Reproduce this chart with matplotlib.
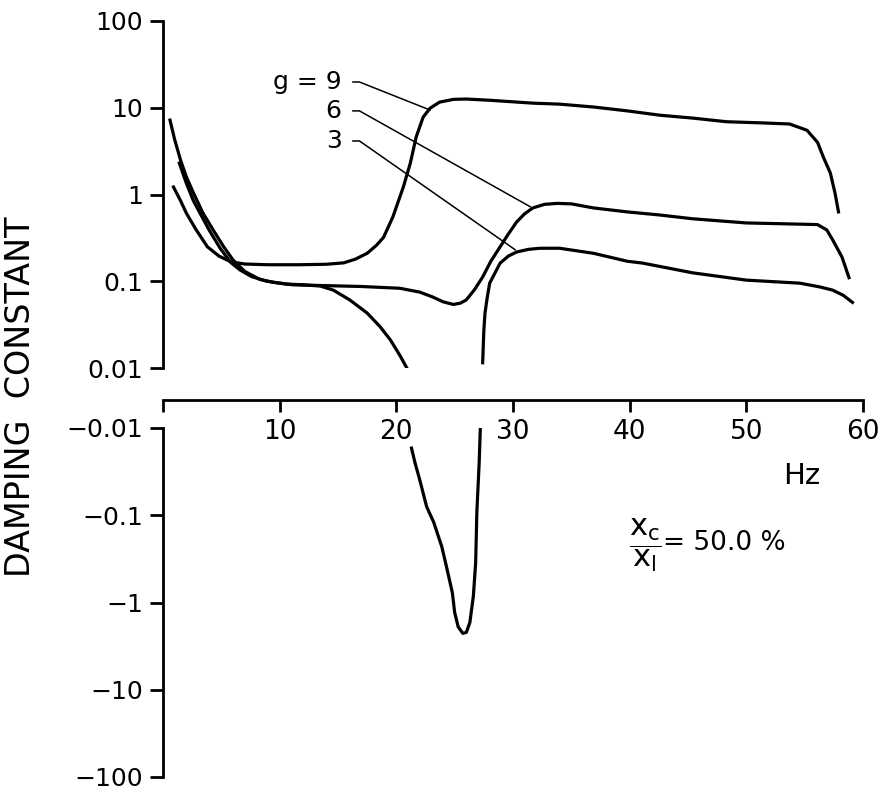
import numpy as np
import matplotlib
matplotlib.use('Agg')
import matplotlib.pyplot as plt
from matplotlib.ticker import NullLocator

plt.rcParams['font.family'] = 'DejaVu Sans'
plt.rcParams['mathtext.fontset'] = 'dejavusans'

# --- data (Hz, damping constant) ---
hz_g9 = [0.9, 1.5, 2.0, 2.8, 3.8, 4.8, 5.8, 7.0, 9.0, 11.7, 14.0, 15.5, 16.5, 17.5,
         18.3, 18.9, 19.7, 20.6, 21.2, 21.7, 22.3, 22.9, 23.7, 24.9, 26.0, 28.0,
         31.7, 34.0, 36.9, 39.8, 42.6, 45.4, 48.3, 51.2, 53.7, 55.2, 56.1, 56.6,
         57.2, 57.6, 57.9]
damp_g9 = [1.22, 0.85, 0.61, 0.40, 0.25, 0.195, 0.168, 0.158, 0.155, 0.155, 0.157,
           0.163, 0.18, 0.21, 0.26, 0.32, 0.55, 1.22, 2.3, 4.6, 7.8, 9.9, 11.6, 12.5,
           12.6, 12.2, 11.3, 11.0, 10.2, 9.2, 8.2, 7.6, 6.9, 6.7, 6.5, 5.5, 4.0, 2.7,
           1.77, 1.04, 0.63]

hz_g6 = [0.6, 1.0, 1.5, 2.0, 2.6, 3.4, 4.3, 5.2, 6.0, 7.0, 8.3, 9.5, 11.1, 14.0,
         17.0, 20.3, 22.0, 23.1, 24.0, 24.9, 25.5, 26.0, 26.7, 27.4, 28.1, 28.9,
         29.6, 30.3, 31.0, 31.7, 32.7, 33.8, 35.0, 36.9, 39.8, 42.6, 45.4, 50.0,
         54.0, 56.1, 56.9, 57.4, 58.2, 58.8]
damp_g6 = [7.2, 4.3, 2.5, 1.6, 1.05, 0.62, 0.39, 0.25, 0.176, 0.13, 0.105, 0.097,
           0.091, 0.089, 0.087, 0.083, 0.075, 0.066, 0.058, 0.054, 0.056, 0.061,
           0.08, 0.112, 0.17, 0.25, 0.35, 0.48, 0.6, 0.70, 0.77, 0.79, 0.78, 0.70,
           0.63, 0.58, 0.525, 0.47, 0.457, 0.45, 0.39, 0.30, 0.19, 0.11]

# g = 3 crosses zero twice: positive, negative, positive again
hz_g3_a = [1.4, 2.0, 2.6, 3.2, 4.0, 4.9, 5.8, 6.6, 7.6, 8.9, 10.5, 12.0, 13.5,
           14.6, 16.0, 17.5, 18.6, 19.5, 20.3, 20.9]
damp_g3_a = [2.3, 1.35, 0.85, 0.6, 0.38, 0.24, 0.165, 0.135, 0.113, 0.1, 0.093,
             0.091, 0.088, 0.079, 0.061, 0.043, 0.030, 0.021, 0.014, 0.010]
hz_g3_b = [21.3, 21.6, 22.0, 22.6, 23.2, 23.9, 24.3, 24.8, 25.0, 25.3, 25.7, 26.0,
           26.3, 26.6, 26.8, 26.9, 27.1, 27.2]
damp_g3_b = [-0.017, -0.025, -0.039, -0.08, -0.12, -0.23, -0.39, -0.77, -1.3, -1.9,
             -2.26, -2.2, -1.7, -0.85, -0.35, -0.093, -0.025, -0.010]
hz_g3_c = [27.4, 27.5, 27.6, 27.8, 28.0, 28.5, 28.9, 29.6, 30.3, 31.3, 32.3, 34.0,
           36.9, 39.8, 41.1, 45.4, 50.0, 54.6, 56.3, 57.4, 58.3, 59.1]
damp_g3_c = [0.0115, 0.027, 0.043, 0.066, 0.095, 0.128, 0.162, 0.195, 0.217, 0.233,
             0.24, 0.24, 0.21, 0.17, 0.162, 0.125, 0.103, 0.095, 0.086, 0.079,
             0.069, 0.057]

pos_ticks = [0.01, 0.1, 1, 10, 100]
pos_labels = ['0.01', '0.1', '1', '10', '100']
neg_ticks = [-0.01, -0.1, -1, -10, -100]
neg_labels = ['\u22120.01', '\u22120.1', '\u22121', '\u221210', '\u2212100']
x_ticks = [0, 10, 20, 30, 40, 50, 60]
x_labels = ['', '10', '20', '30', '40', '50', '60']

# leader labels: text, curve point, text point
g_labels = ['g = 9', '6', '3']
g_points = [(22.9, 9.4), (31.5, 0.72), (30.2, 0.23)]
g_text = [(15.3, 19.8), (15.3, 9.2), (15.3, 4.14)]

W, H = 885, 791
fig = plt.figure(figsize=(W / 100, H / 100), dpi=100)
left, width = 163 / W, 700 / W
ax_top = fig.add_axes([left, 1 - 368 / H, width, (368 - 21) / H])
ax_bot = fig.add_axes([left, 1 - 777 / H, width, (777 - 428) / H])
ax_x = fig.add_axes([left, 1 - 400 / H, width, 0.001])

lw = 2.3
ax_top.plot(hz_g9, damp_g9, color='black', lw=lw)
ax_top.plot(hz_g6, damp_g6, color='black', lw=lw)
ax_top.plot(hz_g3_a, damp_g3_a, color='black', lw=lw)
ax_top.plot(hz_g3_c, damp_g3_c, color='black', lw=lw)
ax_bot.plot(hz_g3_b, damp_g3_b, color='black', lw=lw)

ax_top.set_yscale('log')
ax_top.set_ylim(0.01, 100)


def fwd(y):
    return -np.log10(np.clip(-np.asarray(y, dtype=float), 1e-12, None))


def inv(t):
    return -10.0 ** (-np.asarray(t, dtype=float))


ax_bot.set_yscale('function', functions=(fwd, inv))
ax_bot.set_ylim(-100, -0.01)

for ax, ticks, labels in [(ax_top, pos_ticks, pos_labels), (ax_bot, neg_ticks, neg_labels)]:
    ax.set_xlim(0, 60)
    for s in ['top', 'right', 'bottom']:
        ax.spines[s].set_visible(False)
    ax.spines['left'].set_linewidth(2)
    ax.set_xticks([])
    ax.set_yticks(ticks)
    ax.set_yticklabels(labels)
    ax.yaxis.set_minor_locator(NullLocator())
    ax.tick_params(axis='y', length=9.5, width=2, pad=5, labelsize=18)
    ax.patch.set_visible(False)

ax_x.set_xlim(0, 60)
ax_x.set_ylim(0, 1)
for s in ['top', 'right', 'left']:
    ax_x.spines[s].set_visible(False)
ax_x.spines['bottom'].set_linewidth(2)
ax_x.set_yticks([])
ax_x.set_xticks(x_ticks)
ax_x.set_xticklabels(x_labels)
ax_x.tick_params(axis='x', length=8.5, width=2, pad=5, labelsize=19)
ax_x.patch.set_visible(False)

for txt, pt, tp in zip(g_labels, g_points, g_text):
    ax_top.annotate(txt, xy=pt, xytext=tp, ha='right', va='center', fontsize=18,
                    arrowprops=dict(arrowstyle='-', lw=1.1, color='black',
                                    relpos=(1, 0.5), shrinkA=6, shrinkB=0,
                                    connectionstyle='arc,angleA=0,armA=18,rad=0'))

fig.text(21 / W, 1 - 397 / H, 'DAMPING  CONSTANT', rotation=90, ha='center',
         va='center', fontsize=24)
fig.text(802 / W, 1 - 476 / H, 'Hz', ha='center', va='center', fontsize=21)
fig.text(645 / W, 1 - 545 / H, r'$\dfrac{\mathrm{x}_{\mathrm{c}}}{\mathrm{x}_{\mathrm{l}}}$',
         ha='center', va='center', fontsize=22)
fig.text(663 / W, 1 - 543 / H, '= 50.0 %', ha='left', va='center', fontsize=19)

fig.savefig('out.png', dpi=100)
